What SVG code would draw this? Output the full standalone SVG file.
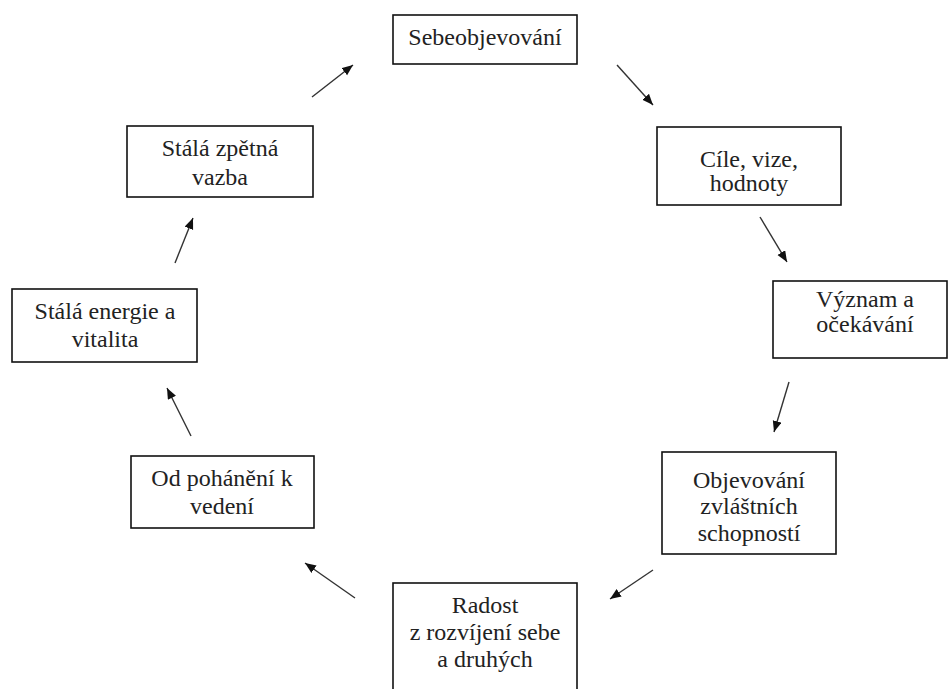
<svg xmlns="http://www.w3.org/2000/svg" width="948" height="689" viewBox="0 0 948 689">
<style>
.box{fill:#fff;stroke:#111;stroke-width:1.6}
.t{font-family:"Liberation Serif","Times New Roman",serif;font-size:24px;fill:#222;text-anchor:middle}
.c{stroke:#333;stroke-width:1.4;fill:none;marker-end:url(#ah)}
</style>
<defs>
<marker id="ah" markerUnits="userSpaceOnUse" markerWidth="12" markerHeight="10" refX="11" refY="4.5" orient="auto">
<path d="M0,0 L11,4.5 L0,9 z" fill="#111"/>
</marker>
</defs>
<rect width="948" height="689" fill="#fff"/>
<g id="connectors">
<line class="c" x1="312" y1="97" x2="353" y2="65"/>
<line class="c" x1="617" y1="65" x2="653" y2="105"/>
<line class="c" x1="760" y1="217" x2="787" y2="262"/>
<line class="c" x1="789" y1="382" x2="774" y2="432"/>
<line class="c" x1="653" y1="570" x2="610" y2="599"/>
<line class="c" x1="355" y1="598" x2="305" y2="563"/>
<line class="c" x1="191" y1="436" x2="167" y2="388"/>
<line class="c" x1="175" y1="263" x2="193" y2="218"/>
</g>
<g id="n1">
<rect class="box" x="393" y="15" width="184" height="49"/>
<text class="t" x="485" y="45">Sebeobjevování</text>
</g>
<g id="n2">
<rect class="box" x="657" y="127" width="184" height="78"/>
<text class="t" x="749" y="167">Cíle, vize,</text>
<text class="t" x="749" y="191">hodnoty</text>
</g>
<g id="n3">
<rect class="box" x="773" y="281" width="174" height="77"/>
<text class="t" x="865" y="307">Význam a</text>
<text class="t" x="865" y="332">očekávání</text>
</g>
<g id="n4">
<rect class="box" x="662" y="452" width="174" height="102"/>
<text class="t" x="749" y="488">Objevování</text>
<text class="t" x="749" y="514">zvláštních</text>
<text class="t" x="749" y="541">schopností</text>
</g>
<g id="n5">
<rect class="box" x="393" y="583" width="184" height="110"/>
<text class="t" x="485" y="613">Radost</text>
<text class="t" x="485" y="640">z rozvíjení sebe</text>
<text class="t" x="485" y="667">a druhých</text>
</g>
<g id="n6">
<rect class="box" x="131" y="456" width="183" height="72"/>
<text class="t" x="222" y="486">Od pohánění k</text>
<text class="t" x="222" y="514">vedení</text>
</g>
<g id="n7">
<rect class="box" x="12" y="289" width="185" height="73"/>
<text class="t" x="105" y="319">Stálá energie a</text>
<text class="t" x="105" y="347">vitalita</text>
</g>
<g id="n8">
<rect class="box" x="127" y="126" width="186" height="71"/>
<text class="t" x="220" y="156">Stálá zpětná</text>
<text class="t" x="220" y="185">vazba</text>
</g>
</svg>
